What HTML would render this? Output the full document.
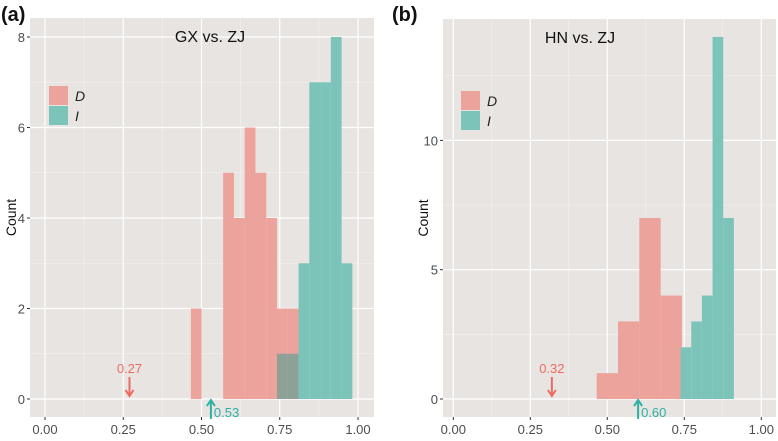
<!DOCTYPE html>
<html><head><meta charset="utf-8"><style>
body{margin:0;background:#fff;}
svg text{font-family:"Liberation Sans",sans-serif;}
</style></head><body>
<svg id="chart" width="778" height="436" xmlns="http://www.w3.org/2000/svg"></svg>
<script>
// Panel (a) data
const aPinkCounts = [2,0,0,5,4,6,5,4,2,2,0,0,0,0,0];
const aTealCounts = [0,0,0,0,0,0,0,0,1,1,3,7,7,8,3];
const aBinStart = 0.466, aBinWidth = 0.0344;
const aYTicks = [0,2,4,6,8];
const xTicks = [0,0.25,0.5,0.75,1.0];
const xTickLabels = ["0.00","0.25","0.50","0.75","1.00"];
// Panel (b) data
const bPinkCounts = [1,3,7,4];
const bPinkStart = 0.4656, bPinkWidth = 0.0692;
const bTealCounts = [2,3,4,14,7];
const bTealStart = 0.738, bTealWidth = 0.0346;
const bYTicks = [0,5,10];
const aMarks = [{v:0.27,label:"0.27",type:"D"},{v:0.53,label:"0.53",type:"I"}];
const bMarks = [{v:0.32,label:"0.32",type:"D"},{v:0.60,label:"0.60",type:"I"}];

const NS="http://www.w3.org/2000/svg";
const svg=document.getElementById('chart');
function mk(tag,attrs,parent,text){const e=document.createElementNS(NS,tag);for(const k in attrs)e.setAttribute(k,attrs[k]);if(text!==undefined)e.textContent=text;(parent||svg).appendChild(e);return e;}
const PINK="#eba39b",TEAL="#7cc4b9";

function panel(cfg){
  const g=mk('g',{});
  
  
  const X=v=>cfg.x0+v*cfg.xs, Y=v=>cfg.y0-v*cfg.ys;
  const bg=mk('rect',{x:cfg.L,y:cfg.T,width:cfg.R-cfg.L,height:cfg.B-cfg.T,fill:"#e8e4e1"},g);
  
  for(let i=0;i<xTicks.length+1;i++){const v=i*0.25-0.125;const x=X(v);if(x>cfg.L&&x<cfg.R)mk('line',{x1:x,x2:x,y1:cfg.T,y2:cfg.B,stroke:"#f4f2f0","stroke-width":0.6},g);}
  const st=cfg.yTicks[1]-cfg.yTicks[0];
  for(let v=-st/2;v<=cfg.yMax;v+=st){const y=Y(v);if(y<cfg.B&&y>cfg.T)mk('line',{x1:cfg.L,x2:cfg.R,y1:y,y2:y,stroke:"#f4f2f0","stroke-width":0.6},g);}
  xTicks.forEach((v,i)=>{const x=X(v);mk('line',{x1:x,x2:x,y1:cfg.T,y2:cfg.B,stroke:"#fff","stroke-width":1.2},g);
    mk('line',{x1:x,x2:x,y1:cfg.B,y2:cfg.B+3,stroke:"#333"},g);
    const t=mk('text',{x:x,y:cfg.B+17,"text-anchor":"middle","font-size":13,fill:"#4d4d4d"},g,xTickLabels[i]);
    });
  cfg.yTicks.forEach(v=>{const y=Y(v);mk('line',{x1:cfg.L,x2:cfg.R,y1:y,y2:y,stroke:"#fff","stroke-width":1.2},g);
    mk('line',{x1:cfg.L-3,x2:cfg.L,y1:y,y2:y,stroke:"#333"},g);
    const t=mk('text',{x:cfg.L-5,y:y+5,"text-anchor":"end","font-size":13,fill:"#4d4d4d"},g,String(v));
    });
  const bar=(start,w,i,c,color,nm,op)=>{if(!c)return;const x1=X(start+i*w),x2=X(start+(i+1)*w);
    const r=mk('rect',{x:x1,y:Y(c),width:x2-x1,height:Y(0)-Y(c),fill:color,"fill-opacity":op},g);
    };
  cfg.pink.counts.forEach((c,i)=>bar(cfg.pink.start,cfg.pink.w,i,c,PINK,'bar-d',1));
  cfg.teal.counts.forEach((c,i)=>bar(cfg.teal.start,cfg.teal.w,i,c,cfg.pink.counts[i]&&cfg.pink.start===cfg.teal.start?"#6fa096":TEAL,'bar-i',cfg.pink.counts[i]&&cfg.pink.start===cfg.teal.start?0.75:1));
  cfg.marks.forEach(m=>{const x=X(m.v);
    if(m.type==="D"){const col="#ee6a61";
      mk('line',{x1:x,x2:x,y1:cfg.y0-22,y2:cfg.y0-4,stroke:col,"stroke-width":2},g);
      mk('path',{d:`M${x-4},${cfg.y0-9} L${x},${cfg.y0-3} L${x+4},${cfg.y0-9}`,fill:"none",stroke:col,"stroke-width":2},g);
      const t=mk('text',{x:x,y:cfg.y0-26,"text-anchor":"middle","font-size":13,fill:col},g,m.label);
      
    }else{const col="#2cb0a3";
      mk('line',{x1:x,x2:x,y1:cfg.y0+20,y2:cfg.y0+1,stroke:col,"stroke-width":2},g);
      mk('path',{d:`M${x-4},${cfg.y0+7} L${x},${cfg.y0+1} L${x+4},${cfg.y0+7}`,fill:"none",stroke:col,"stroke-width":2},g);
      const t=mk('text',{x:x+3,y:cfg.y0+18,"font-size":13,fill:col},g,m.label);
      }
  });
  const lg=mk('g',{},g);
  mk('rect',{x:cfg.lx,y:cfg.ly,width:19,height:19,fill:PINK},lg);
  mk('rect',{x:cfg.lx,y:cfg.ly+20,width:19,height:19,fill:TEAL},lg);
  mk('text',{x:cfg.lx+26,y:cfg.ly+15,"font-size":14,"font-style":"italic",fill:"#222"},lg,"D");
  mk('text',{x:cfg.lx+26,y:cfg.ly+35,"font-size":14,"font-style":"italic",fill:"#222"},lg,"I");
  const ti=mk('text',{x:cfg.tx,y:cfg.T+24,"text-anchor":"middle","font-size":16,fill:"#111"},g,cfg.title);
  
  const yl=mk('text',{x:0,y:0,"text-anchor":"middle","font-size":14,fill:"#111",transform:`translate(${cfg.ylx},${(cfg.T+cfg.B)/2}) rotate(-90)`},g,"Count");
  
  const lb=mk('text',{x:cfg.labX,y:21,"font-size":20,"font-weight":"bold",fill:"#111"},g,cfg.label);
  
}
panel({name:'panel-a',L:30,R:374,T:18,B:417,x0:45,xs:313,y0:399,ys:45.25,yTicks:aYTicks,yMax:8,
  pink:{counts:aPinkCounts,start:aBinStart,w:aBinWidth},teal:{counts:aTealCounts,start:aBinStart,w:aBinWidth},
  marks:aMarks,lx:49,ly:86,tx:210,title:"GX vs. ZJ",ylx:16,labX:1,label:"(a)"});
panel({name:'panel-b',L:443,R:776,T:19,B:417,x0:453.3,xs:308,y0:399,ys:25.86,yTicks:bYTicks,yMax:14,
  pink:{counts:bPinkCounts,start:bPinkStart,w:bPinkWidth},teal:{counts:bTealCounts,start:bTealStart,w:bTealWidth},
  marks:bMarks,lx:461,ly:91,tx:580,title:"HN vs. ZJ",ylx:428,labX:392,label:"(b)"});
</script>
</body></html>
